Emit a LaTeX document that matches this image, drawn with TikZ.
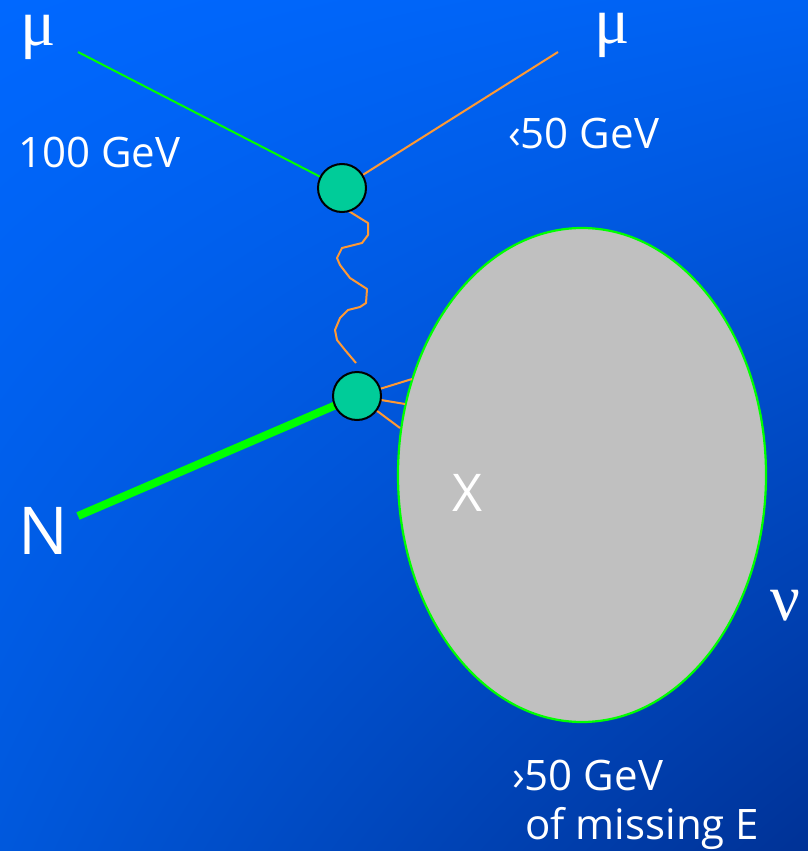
\documentclass[tikz,border=0pt]{standalone}
\usepackage{fontspec}
\setmainfont{Open Sans}
\newfontfamily\greekfont{Liberation Serif}
\usetikzlibrary{calc,shadings,shapes.geometric}
\definecolor{bgtl}{RGB}{0,104,255}
\definecolor{bgtr}{RGB}{0,98,242}
\definecolor{bgbl}{RGB}{0,88,220}
\definecolor{bgbr}{RGB}{0,50,150}
\definecolor{vtx}{RGB}{0,204,153}
\definecolor{org}{RGB}{255,153,51}
\definecolor{grn}{RGB}{0,255,0}
\definecolor{blob}{RGB}{192,192,192}
\tikzset{
  lbl/.style={text=white, inner sep=0pt, font=\fontsize{42}{46}\selectfont},
  greek/.style={text=white, inner sep=0pt, text height=31pt, text depth=14pt, font=\greekfont\fontsize{66}{68}\selectfont},
  vertex/.style={circle, draw=black, line width=2pt, fill=vtx, minimum size=48pt, inner sep=0pt},
  thinline/.style={line width=2pt},
}
\begin{document}
\begin{tikzpicture}[x=1pt,y=-1pt]
\shade[upper left=bgtl, upper right=bgtr, lower left=bgbl, lower right=bgbr] (0,0) rectangle (808,851);
\useasboundingbox (0,0) rectangle (808,851);
% blob
\node (X) [ellipse, draw=grn, line width=2.2pt, fill=blob, minimum width=368pt, minimum height=494pt, inner sep=0pt] at (582,475) {};
% external ends
\coordinate (mu1) at (78,52);
\coordinate (mu2) at (558,52);
\coordinate (nn) at (78,516);
\coordinate (v1c) at (342,188);
\coordinate (v2c) at (357,396);
\draw[grn, thinline] (mu1) -- (v1c);
\draw[org, thinline] (v1c) -- (mu2);
\draw[grn, line width=8pt] (nn) -- (v2c);
% photon
\draw[org, thinline, line join=round] (347,210) -- (368,223) -- (368,235) -- (362,243) -- (342,248) -- (337,258) -- (340,265) -- (350,278) -- (367,289) -- (366,303) -- (360,307) -- (348,310) -- (340,318) -- (335,330) -- (337,340) -- (345,350) -- (356,363);
% outgoing to blob
\coordinate (o1) at (412,379);
\coordinate (o2) at (405,404);
\coordinate (o3) at (400,428);
\draw[org, thinline] (v2c) -- (o1);
\draw[org, thinline] (v2c) -- (o2);
\draw[org, thinline] (v2c) -- (o3);
\node (v1) [vertex] at (v1c) {};
\node (v2) [vertex] at (v2c) {};
% labels
\node (lmu1) [greek, anchor=base] at (38,46) {μ};
\node (lmu2) [greek, anchor=base] at (612,44) {μ};
\node (lnu) [greek, anchor=base] at (785,620) {ν};
\node (l100) [lbl, anchor=west] at (18,152) {100 GeV};
\node (l50) [lbl, anchor=west] at (508,133) {‹50 GeV};
\node (lN) [lbl, font=\fontsize{66}{70}\selectfont] at (43,531) {N};
\node (lX) [lbl, font=\fontsize{52}{56}\selectfont] at (467,493) {X};
\node (lmiss1) [lbl, anchor=west] at (512,775) {›50 GeV};
\node (lmiss2) [lbl, anchor=west] at (525,828) {of missing E};
\end{tikzpicture}
\end{document}
